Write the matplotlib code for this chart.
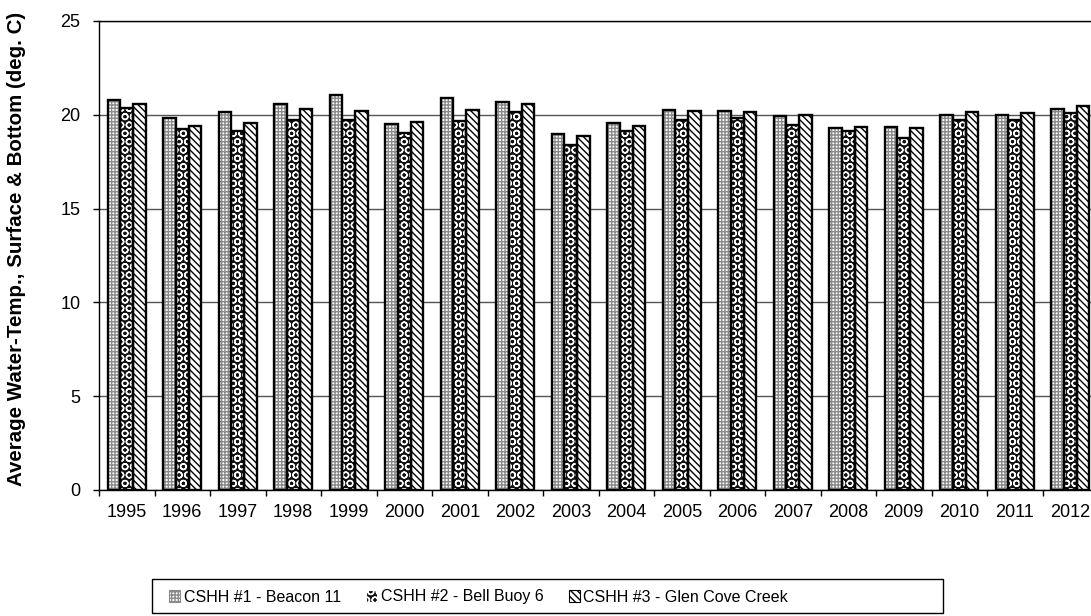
import matplotlib
matplotlib.use("Agg")
import matplotlib.pyplot as plt
from matplotlib.patches import Patch, Rectangle
import numpy as np

plt.rcParams['font.family'] = ['Liberation Sans', 'DejaVu Sans']
plt.rcParams['hatch.linewidth'] = 1.0

years = [str(y) for y in range(1995, 2013)]
beacon11 = [20.8, 19.85, 20.15, 20.55, 21.05, 19.5, 20.9, 20.7, 18.95,
            19.55, 20.25, 20.2, 19.95, 19.3, 19.35, 20.0, 19.97, 20.3]
bellbuoy6 = [20.35, 19.25, 19.15, 19.7, 19.7, 19.05, 19.65, 20.15, 18.4,
             19.15, 19.72, 19.82, 19.45, 19.15, 18.78, 19.72, 19.72, 20.08]
glencove = [20.6, 19.42, 19.55, 20.32, 20.2, 19.6, 20.28, 20.55, 18.88,
            19.42, 20.2, 20.14, 20.0, 19.37, 19.28, 20.14, 20.08, 20.48]

series = [
    ("CSHH #1 - Beacon 11", beacon11, 'white', '#8a8a8a', '+++++'),
    ("CSHH #2 - Bell Buoy 6", bellbuoy6, '#111111', 'white', 'OO'),
    ("CSHH #3 - Glen Cove Creek", glencove, 'white', 'black', '\\\\\\\\\\'),
]

fig = plt.figure(figsize=(10.91, 6.16), dpi=100)
ax = fig.add_axes([99 / 1091, 1 - 490 / 616, 999 / 1091, 469 / 616])

x = np.arange(len(years))
w = 0.23
handles = []
for k, (name, vals, face, hcol, hatch) in enumerate(series):
    pos = x + (k - 1) * w
    # hatch layer, then black outline on top
    ax.bar(pos, vals, w, color=face, edgecolor=hcol, hatch=hatch, linewidth=0, zorder=2)
    ax.bar(pos, vals, w, fill=False, edgecolor='black', linewidth=1.7, zorder=3)
    handles.append(Patch(facecolor=face, edgecolor=hcol, hatch=hatch, linewidth=0.8, label=name))

ax.set_xlim(-0.5, len(years) - 0.5)
ax.set_ylim(0, 25)
ax.set_yticks([0, 5, 10, 15, 20, 25])
ax.yaxis.grid(True, color='#555555', linewidth=1.0, zorder=1)
ax.set_axisbelow(True)

ax.set_xticks(x)
ax.set_xticklabels(years, fontsize=13)
ax.set_xticks(np.arange(len(years) + 1) - 0.5, minor=True)
ax.tick_params(axis='x', which='major', length=0, pad=10)
ax.tick_params(axis='x', which='minor', length=4.5, width=1, direction='out')
ax.tick_params(axis='y', length=4.5, width=1, labelsize=13, pad=9)

for s in ['left', 'bottom', 'top', 'right']:
    ax.spines[s].set_color('black')
    ax.spines[s].set_linewidth(1.0)

ax.set_ylabel('Average Water-Temp., Surface & Bottom (deg. C)', fontsize=14.8,
              fontweight='bold')
ax.yaxis.set_label_coords(-73 / 999, 0.514)

# legend frame drawn separately (content sits left inside the box)
fig.patches.append(Rectangle((152 / 1091, 1 - 613 / 616), 791 / 1091, 34 / 616,
                             transform=fig.transFigure, fill=False,
                             edgecolor='black', linewidth=1.0))
leg = fig.legend(handles=handles, loc='center left', bbox_to_anchor=(158 / 1091, 1 - 597 / 616),
                 ncol=3, fontsize=11.5, frameon=False,
                 handlelength=0.7, handleheight=0.7,
                 handletextpad=0.2, columnspacing=1.6, borderpad=0.2)

fig.savefig('out.png', dpi=100)
